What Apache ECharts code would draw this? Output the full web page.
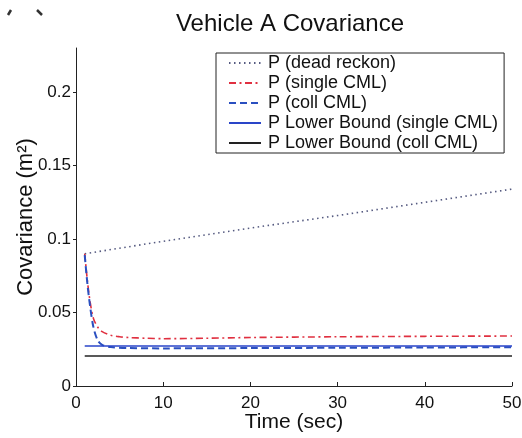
<!DOCTYPE html>
<html>
<head>
<meta charset="utf-8">
<script src="https://cdn.jsdelivr.net/npm/echarts@6/dist/echarts.min.js"></script>
<style>html,body{margin:0;padding:0;background:#fff}#c{width:522px;height:438px}</style>
</head>
<body>
<div id="c"></div>
<script>
// Data
var seriesNames = ['P (dead reckon)', 'P (single CML)', 'P (coll CML)', 'P Lower Bound (single CML)', 'P Lower Bound (coll CML)'];
var xTicks = [0, 10, 20, 30, 40, 50];
var yTicks = [0, 0.05, 0.1, 0.15, 0.2];

var deadT = [1, 10, 20, 30, 40, 50];
var deadV = [0.0900, 0.0985, 0.1075, 0.1160, 0.1250, 0.1340];

var singleT = [1, 1.3, 1.6, 2, 2.5, 3, 4, 5, 6, 8, 10, 15, 20, 30, 40, 50];
var singleV = [0.0900, 0.0720, 0.0580, 0.0460, 0.0400, 0.0370, 0.0345, 0.0335, 0.0330, 0.0325, 0.0322, 0.0325, 0.0330, 0.0335, 0.0338, 0.0340];

var collT = [1, 1.3, 1.6, 2, 2.5, 3, 4, 6, 10, 20, 30, 40, 50];
var collV = [0.0890, 0.0700, 0.0550, 0.0400, 0.0310, 0.0280, 0.0265, 0.0258, 0.0256, 0.0258, 0.0260, 0.0262, 0.0264];

var lbSingleT = [1, 50];
var lbSingleV = [0.0272, 0.0272];

var lbCollT = [1, 50];
var lbCollV = [0.0204, 0.0204];

function pairs(t, v) { return t.map(function (x, i) { return [x, v[i]]; }); }

var FONT = '"Liberation Sans", Arial, Helvetica, sans-serif';
var TXT = '#111';
var chart = echarts.init(document.getElementById('c'), null, { renderer: 'canvas' });

chart.setOption({
  animation: false,
  backgroundColor: '#ffffff',
  title: {
    text: 'Vehicle A Covariance',
    left: 285, textAlign: 'center', top: 7,
    textStyle: { fontFamily: FONT, fontSize: 24, fontWeight: 'normal', color: TXT }
  },
  grid: { left: 76, right: 10, top: 48, bottom: 52, containLabel: false, outerBoundsMode: 'none' },
  legend: {
    orient: 'vertical',
    left: 216, top: 53,
    backgroundColor: '#fff',
    borderColor: '#222', borderWidth: 1, borderRadius: 0,
    padding: [1, 6, 1, 12],
    itemWidth: 32, itemHeight: 18, itemGap: 2,
    itemStyle: { opacity: 0 },
    textStyle: { fontFamily: FONT, fontSize: 18, color: TXT, padding: [0, 0, 0, 2] },
    data: seriesNames
  },
  xAxis: {
    type: 'value', min: 0, max: 50, interval: 10,
    name: 'Time (sec)', nameLocation: 'middle', nameGap: 26, nameMoveOverlap: false,
    nameTextStyle: { fontFamily: FONT, fontSize: 21, color: TXT },
    axisLine: { show: true, lineStyle: { color: '#222', width: 1 } },
    axisTick: { show: true, inside: true, length: 4, lineStyle: { color: '#222' } },
    axisLabel: { fontFamily: FONT, fontSize: 17, color: TXT, margin: 9,
      customValues: xTicks },
    splitLine: { show: false }
  },
  yAxis: {
    type: 'value', min: 0, max: 0.23, interval: 0.05,
    name: 'Covariance (m²)', nameLocation: 'middle', nameGap: 39, nameRotate: 90, nameMoveOverlap: false,
    nameTextStyle: { fontFamily: FONT, fontSize: 22, color: TXT },
    axisLine: { show: true, lineStyle: { color: '#222', width: 1 } },
    axisTick: { show: true, inside: false, length: 3, lineStyle: { color: '#222' }, customValues: yTicks },
    axisLabel: { fontFamily: FONT, fontSize: 17, color: TXT, margin: 5, customValues: yTicks },
    splitLine: { show: false }
  },
  graphic: [
    { type: 'line', shape: { x1: 8, y1: 15, x2: 11, y2: 10 }, style: { stroke: '#333', lineWidth: 2.5 } },
    { type: 'line', shape: { x1: 37, y1: 10, x2: 42, y2: 15 }, style: { stroke: '#333', lineWidth: 2.5 } }
  ],
  series: [
    { name: seriesNames[0], type: 'line', symbol: 'none', data: pairs(deadT, deadV),
      lineStyle: { color: '#555a80', width: 1.6, type: [1.5, 3.5] }, itemStyle: { color: '#555a80' } },
    { name: seriesNames[1], type: 'line', symbol: 'none', data: pairs(singleT, singleV), smooth: 0.3,
      lineStyle: { color: '#e03040', width: 1.6, type: [7, 3.5, 2, 3.5] }, itemStyle: { color: '#e03040' } },
    { name: seriesNames[2], type: 'line', symbol: 'none', data: pairs(collT, collV), smooth: 0.3,
      lineStyle: { color: '#2a4fc0', width: 2, type: [7, 4] }, itemStyle: { color: '#2a4fc0' } },
    { name: seriesNames[3], type: 'line', symbol: 'none', data: pairs(lbSingleT, lbSingleV),
      lineStyle: { color: '#2a45c8', width: 1.6, type: 'solid' }, itemStyle: { color: '#2a45c8' } },
    { name: seriesNames[4], type: 'line', symbol: 'none', data: pairs(lbCollT, lbCollV),
      lineStyle: { color: '#222', width: 1.6, type: 'solid' }, itemStyle: { color: '#222' } }
  ]
});
</script>
</body>
</html>
